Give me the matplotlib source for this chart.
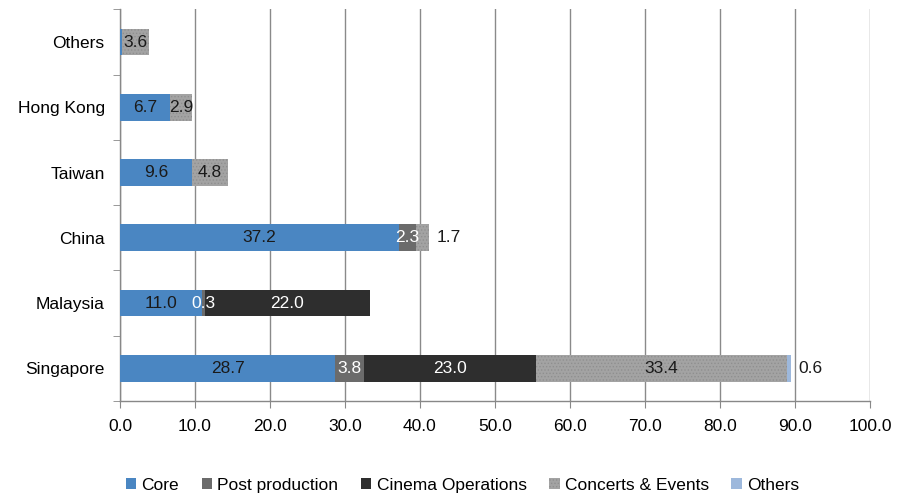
import numpy as np
import matplotlib
matplotlib.use('Agg')
import matplotlib.pyplot as plt
from matplotlib.ticker import FixedLocator

plt.rcParams['font.family'] = ['Liberation Sans', 'DejaVu Sans']
plt.rcParams['hatch.linewidth'] = 0.6

# data (top to bottom in the picture)
regions = ['Others', 'Hong Kong', 'Taiwan', 'China', 'Malaysia', 'Singapore']
series = ['Core', 'Post production', 'Cinema Operations', 'Concerts & Events', 'Others']
core = [0.25, 6.7, 9.6, 37.2, 11.0, 28.7]
post = [0.0, 0.0, 0.0, 2.3, 0.3, 3.8]
cinema = [0.0, 0.0, 0.0, 0.0, 22.0, 23.0]
concerts = [3.6, 2.9, 4.8, 1.7, 0.0, 33.4]
others = [0.0, 0.0, 0.0, 0.0, 0.0, 0.6]

colors = ['#4a86c2', '#6b6b6b', '#2e2e2e', '#a3a3a3', '#9db8dc']
text_colors = ['#1a1a1a', 'white', 'white', '#1a1a1a', '#1a1a1a']
hatches = [None, None, None, '.....', None]
fs = 12.5

fig = plt.figure(figsize=(9.07, 4.95), dpi=100)
ax = fig.add_axes([0.1323, 0.19, 0.8269, 0.791])

y = np.arange(len(regions))[::-1]
left = np.zeros(len(regions))
all_vals = [core, post, cinema, concerts, others]
for k, vals in enumerate(all_vals):
    vals = np.array(vals)
    ax.barh(y, vals, left=left, height=0.41, color=colors[k], label=series[k],
            hatch=hatches[k], edgecolor='#8f8f8f' if hatches[k] else colors[k],
            linewidth=0, zorder=3)
    for i, v in enumerate(vals):
        if v < 0.3:
            continue
        end = left[i] + v
        last = all(np.array(all_vals[j])[i] == 0 for j in range(k + 1, len(all_vals)))
        if v < 2.0 and last:
            ax.text(end + 1.0, y[i], '%.1f' % v, ha='left', va='center',
                    fontsize=fs, color='#1a1a1a', zorder=4)
        else:
            ax.text(left[i] + v / 2, y[i], '%.1f' % v, ha='center', va='center',
                    fontsize=fs, color=text_colors[k], zorder=4)
    left = left + vals

ax.set_xlim(0, 100)
ax.set_ylim(-0.5, len(regions) - 0.5)
ax.set_xticks(np.arange(0, 101, 10))
ax.set_xticklabels(['%.1f' % t for t in np.arange(0, 101, 10)], fontsize=fs)
ax.set_yticks(y)
ax.set_yticklabels(regions, fontsize=fs)
ax.yaxis.set_minor_locator(FixedLocator(np.arange(-0.5, len(regions), 1)))
ax.tick_params(axis='y', which='major', length=0, pad=11)
ax.tick_params(axis='y', which='minor', length=5, color='#888888', direction='out')
ax.tick_params(axis='x', length=5, color='#888888', direction='out', pad=8)

ax.grid(axis='x', color='#8a8a8a', linewidth=1.0, zorder=0)
for s in ['top', 'right']:
    ax.spines[s].set_visible(False)
for s in ['left', 'bottom']:
    ax.spines[s].set_color('#888888')
    ax.spines[s].set_linewidth(1.0)

fig.legend(loc='lower center', bbox_to_anchor=(0.51, -0.027), ncol=5, frameon=False,
           fontsize=fs, handlelength=0.6, handleheight=0.6, handletextpad=0.3,
           columnspacing=1.3)

fig.savefig('out.png', dpi=100)
